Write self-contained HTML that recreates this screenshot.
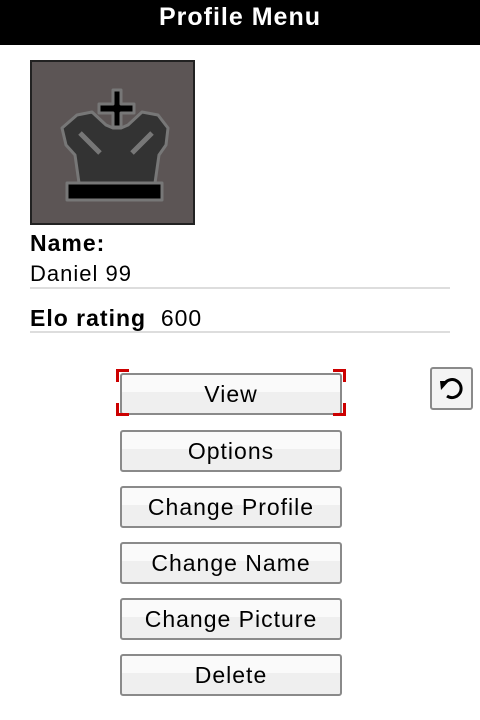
<!DOCTYPE html>
<html><head><style>
body{margin:0;width:480px;height:720px;background:#fff;position:relative;font-family:"Liberation Sans","DejaVu Sans",sans-serif;overflow:hidden}
.hdr{position:absolute;left:0;top:0;width:480px;height:45px;background:#000;color:#fff;font-weight:bold;font-size:25px;letter-spacing:1px;text-align:center;line-height:34px}
.av{position:absolute;left:30px;top:60px;width:161px;height:161px;border:2px solid #222;background:#5c5555}
.t{position:absolute;left:30px;color:#000;white-space:nowrap;letter-spacing:1px}
.ln{position:absolute;left:30px;width:420px;height:2px;background:#ddd}
.btn{position:absolute;left:120px;width:218px;height:38px;border:2px solid #8a8a8a;border-radius:3px;background:linear-gradient(#fafafa 0,#fafafa 45%,#efefef 45%);font-size:23px;letter-spacing:1px;text-align:center;line-height:38px;color:#000}
.c{position:absolute;width:10px;height:10px;border:3px solid #c00}
.rf{position:absolute;left:430px;top:367px;width:39px;height:39px;border:2px solid #8a8a8a;border-radius:3px;background:#f4f4f4}
</style></head><body>
<div class="hdr">Profile Menu</div>
<div class="av"><svg width="161" height="161" viewBox="32 62 161 161">
<g stroke="#777" stroke-width="3" stroke-linejoin="round">
<path d="M113 90h8v14h13v9h-13v14h-8v-14h-14v-9h14z" fill="#000"/>
<path d="M77 115 L92 112 L106 125 L113 128 L121 128 L128 125 L142 112 L158 115 L168 128 L166 145 L159 155 L155 183 L79 183 L75 155 L66 145 L62 128 Z" fill="#333"/>
<rect x="67" y="183" width="95" height="17" fill="#000"/>
</g>
<path d="M80 133 L100 153" stroke="#777" stroke-width="5"/>
<path d="M152 133 L132 153" stroke="#777" stroke-width="5"/>
</svg></div>
<div class="t" style="top:230px;font-size:23px;font-weight:bold">Name:</div>
<div class="t" style="top:261px;font-size:22px">Daniel 99</div>
<div class="ln" style="top:287px"></div>
<div class="t" style="top:305px;font-size:23px"><b>Elo rating</b>&nbsp; 600</div>
<div class="ln" style="top:331px"></div>
<div class="btn" style="top:373px">View</div>
<div class="c" style="left:116px;top:369px;border-right:0;border-bottom:0"></div>
<div class="c" style="left:333px;top:369px;border-left:0;border-bottom:0"></div>
<div class="c" style="left:116px;top:403px;border-right:0;border-top:0"></div>
<div class="c" style="left:333px;top:403px;border-left:0;border-top:0"></div>
<div class="btn" style="top:430px">Options</div>
<div class="btn" style="top:486px">Change Profile</div>
<div class="btn" style="top:542px">Change Name</div>
<div class="btn" style="top:598px">Change Picture</div>
<div class="btn" style="top:654px">Delete</div>
<div class="rf"><svg width="39" height="39" viewBox="0 0 39 39"><path d="M13 14 A9 9 0 1 1 15 27" fill="none" stroke="#000" stroke-width="3"/><path d="M8 12 L17 12 L9 21 Z" fill="#000"/></svg></div>
</body></html>
